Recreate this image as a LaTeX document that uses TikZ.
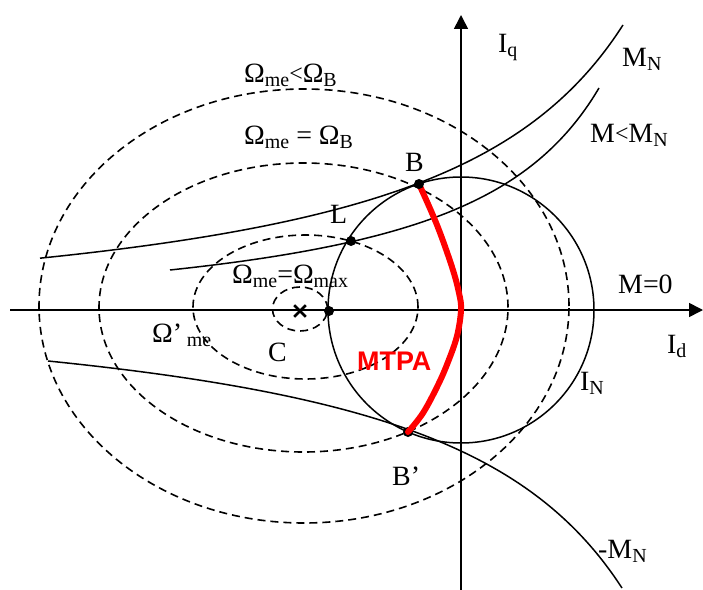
\documentclass[tikz,border=0pt]{standalone}
\usepackage{fontspec}
\setmainfont{Liberation Serif}
\newfontfamily\mtpafont{Liberation Sans}
\usetikzlibrary{arrows.meta,shapes.misc}
\newcommand{\dn}[1]{\raisebox{-4bp}{\fontsize{20}{20}\selectfont #1}}
\newcommand{\lessthan}{\raisebox{1.5bp}{\fontsize{24}{24}\selectfont <}}
\begin{document}
\begin{tikzpicture}[x=1bp,y=-1bp,
  lbl/.style={inner sep=0pt, anchor=base west, font=\fontsize{28}{30}\selectfont},
  curve/.style={line width=1.5bp},
  volt/.style={line width=1.6bp, dash pattern=on 8bp off 5bp},
  axis/.style={line width=1.6bp, -{Triangle[length=14bp,width=14bp]}},
  dot/.style={circle, fill=black, inner sep=0pt, minimum size=10bp},
  mtpa/.style={line width=6bp, red, line cap=round}]
\useasboundingbox (0,0) rectangle (703,590);

% axes
\coordinate (xs) at (10,310);
\coordinate (xe) at (703,310);
\coordinate (ys) at (461,590);
\coordinate (ye) at (461,15);
\coordinate (O) at (461,310);
\draw[axis] (xs) -- (xe);
\draw[axis] (ys) -- (ye);

% voltage ellipses
\draw[volt] (304,306) ellipse [x radius=265bp, y radius=217bp];
\draw[volt] (303.5,307.5) ellipse [x radius=204.5bp, y radius=144.5bp];
\draw[volt] (305.5,307) ellipse [x radius=112.5bp, y radius=72bp];
\draw[volt] (300,309) ellipse [x radius=27.5bp, y radius=22bp];

% current circle
\draw[curve] (O) circle [radius=133bp];

% torque hyperbolas
\draw[curve] plot[domain=40:623, samples=90, smooth] (\x, {338.5 - 629.57/(8.238 - \x/100)});
\draw[curve] plot[domain=170:599, samples=80, smooth] (\x, {331 - 349.44/(7.428 - \x/100)});
\draw[curve] plot[domain=48:622, samples=90, smooth] (\x, {282.8 + 603.44/(8.197 - \x/100)});

% points
\node[dot] (Bp) at (408,432) {};
\node[dot] (L) at (351,241) {};
\node[dot] (D) at (329,311) {};
\node[cross out, draw, line width=2.6bp, minimum size=9bp, inner sep=0pt] (C) at (300,311) {};

% MTPA
\draw[mtpa] plot[smooth, tension=0.6] coordinates {(419,184) (437,225) (452,267) (459,293) (461,310) (457,336) (448,362) (438,385) (423,413) (408,432)};
\node[dot] (B) at (419,184) {};

% labels
\node[lbl] (t1) at (244,83) {Ω\dn{me}\lessthan Ω\dn{B}};
\node[lbl] (t2) at (244,145) {Ω\dn{me} = Ω\dn{B}};
\node[lbl] (t3) at (232,283) {Ω\dn{me}=Ω\dn{max}};
\node[lbl] (t4) at (152,342) {Ω’\,\dn{me}};
\node[lbl] (tC) at (268,361) {C};
\node[lbl] (tL) at (330,223) {L};
\node[lbl] (tB) at (405,172) {B};
\node[lbl] (tBp) at (392,485) {B’};
\node[lbl] (tIq) at (498,53) {I\dn{q}};
\node[lbl] (tMN) at (622,67) {M\dn{N}};
\node[lbl] (tMl) at (590,143) {M\lessthan M\dn{N}};
\node[lbl] (tM0) at (618,293) {M=0};
\node[lbl] (tId) at (667,353) {I\dn{d}};
\node[lbl] (tIN) at (580,390) {I\dn{N}};
\node[lbl] (tmMN) at (598,558) {-M\dn{N}};
\node[inner sep=0pt, anchor=base west, text=red, font=\mtpafont\bfseries\fontsize{27}{30}\selectfont] (tM) at (357,370) {MTPA};
\end{tikzpicture}
\end{document}
